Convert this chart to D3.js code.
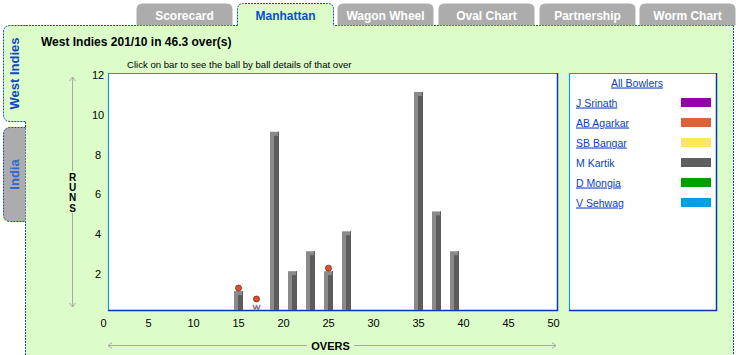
<!DOCTYPE html>
<html><head><meta charset="utf-8">
<script src="https://cdn.jsdelivr.net/npm/d3@7"></script>
<style>
html,body{margin:0;padding:0;background:#fff;}
svg{display:block;font-family:"Liberation Sans",Arial,sans-serif;}
</style></head>
<body><svg id="c" width="736" height="355"></svg>
<script>
// ---- data ----
const overs = [15, 17, 19, 21, 23, 25, 27, 35, 37, 39];
const runs = [1, 0, 9, 2, 3, 2, 4, 11, 5, 3];
const wicketOvers = [15, 17, 25];
const yTicks = [2, 4, 6, 8, 10, 12];
const xTicks = [0, 5, 10, 15, 20, 25, 30, 35, 40, 45, 50];
const bowlers = ["J Srinath", "AB Agarkar", "SB Bangar", "M Kartik", "D Mongia", "V Sehwag"];
const bowlerColors = ["#9400a8", "#e0603a", "#ffe857", "#5f5f5f", "#009f00", "#00a0e8"];
const bowlerLinked = [true, true, true, false, true, true];
const topTabs = ["Scorecard", "Manhattan", "Wagon Wheel", "Oval Chart", "Partnership", "Worm Chart"];
const activeTab = "Manhattan";
const sideTabs = ["West Indies", "India"];
const title = "West Indies 201/10 in 46.3 over(s)";
const subtitle = "Click on bar to see the ball by ball details of that over";
const yAxisLetters = ["R", "U", "N", "S"];

const GREEN = "#dcfdca", BLUE = "#1048c8", GREY = "#acacac";
const svg = d3.select("#c");

// ---- panel ----
svg.append("rect").attr("x", 25).attr("y", 25).attr("width", 709).attr("height", 330).attr("fill", GREEN);
const dash = "2,1";
svg.append("line").attr("x1", 20).attr("y1", 25.5).attr("x2", 733).attr("y2", 25.5)
  .attr("stroke", BLUE).attr("stroke-dasharray", dash);
svg.append("line").attr("x1", 733.5).attr("y1", 25).attr("x2", 733.5).attr("y2", 355)
  .attr("stroke", BLUE).attr("stroke-dasharray", dash);
svg.append("line").attr("x1", 25.5).attr("y1", 122).attr("x2", 25.5).attr("y2", 355)
  .attr("stroke", BLUE).attr("stroke-dasharray", dash);

// ---- top tabs ----
const tabX = d3.scaleBand().domain(topTabs).range([136, 736]).paddingInner(0.04).paddingOuter(0.0);
function tabPath(x, y, w, h, r) {
  return `M${x},${y + h} L${x},${y + r} Q${x},${y} ${x + r},${y} L${x + w - r},${y} Q${x + w},${y} ${x + w},${y + r} L${x + w},${y + h}`;
}
topTabs.forEach(t => {
  const x = Math.round(tabX(t)) + 0.5, w = Math.round(tabX.bandwidth()) - 1;
  const act = t === activeTab;
  svg.append("path").attr("d", tabPath(x, 3.5, w, act ? 23 : 22, 6) + "Z")
    .attr("fill", act ? GREEN : GREY).attr("stroke", "none");
  if (act) svg.append("path").attr("d", tabPath(x, 3.5, w, 22, 6))
    .attr("fill", "none").attr("stroke", BLUE).attr("stroke-dasharray", dash);
  svg.append("text").attr("x", x + w / 2).attr("y", 19.5).attr("text-anchor", "middle")
    .attr("font-size", 12).attr("font-weight", "bold")
    .attr("fill", act ? "#0a4fd0" : "#fff").text(t);
});

// ---- side tabs ----
function sidePath(x, y, w, h, r) {
  return `M${x + w},${y} L${x + r},${y} Q${x},${y} ${x},${y + r} L${x},${y + h - r} Q${x},${y + h} ${x + r},${y + h} L${x + w},${y + h}`;
}
const sideY = [[25.5, 96], [127.5, 94]];
sideTabs.forEach((t, i) => {
  const [y, h] = sideY[i];
  const act = i === 0;
  svg.append("path").attr("d", sidePath(3.5, y, act ? 22.5 : 22, h, 7) + "Z").attr("fill", act ? GREEN : GREY);
  svg.append("path").attr("d", sidePath(3.5, y, 22, h, 7)).attr("fill", "none")
    .attr("stroke", BLUE).attr("stroke-dasharray", dash);
  svg.append("text").attr("transform", `translate(19,${y + h / 2}) rotate(-90)`)
    .attr("text-anchor", "middle").attr("font-size", 13).attr("font-weight", "bold")
    .attr("fill", act ? "#1048c0" : "#2f68d0").text(t);
});

// ---- titles ----
svg.append("text").attr("x", 41).attr("y", 46).attr("font-size", 12).attr("font-weight", "bold")
  .attr("fill", "#000").text(title);
svg.append("text").attr("x", 127).attr("y", 68).attr("font-size", 9.6).attr("fill", "#000").text(subtitle);

// ---- scales ----
const x = d3.scaleLinear().domain([0, 50]).range([103.5, 553.5]);
const y = d3.scaleLinear().domain([0, 12]).range([311, 72]);
const L = 108, R = 558, T = 73, B = 311;

// plot box
svg.append("rect").attr("x", L).attr("y", T).attr("width", R - L).attr("height", B - T).attr("fill", "#fff");
svg.append("path").attr("d", `M${L + 0.5},${B} L${L + 0.5},${T + 0.5} L${R},${T + 0.5}`)
  .attr("fill", "none").attr("stroke", "#1a90f0").attr("stroke-width", 1.2);
svg.append("path").attr("d", `M${R - 0.5},${T} L${R - 0.5},${B - 0.5} L${L},${B - 0.5}`)
  .attr("fill", "none").attr("stroke", "#0838b0").attr("stroke-width", 1.5);

// y tick labels
svg.append("g").selectAll("text").data(yTicks).join("text")
  .attr("x", 98).attr("y", d => y(d) + 3).attr("dy", "0.35em").attr("text-anchor", "middle")
  .attr("font-size", 11).attr("fill", "#000").text(d => d);
// x tick labels
svg.append("g").selectAll("text").data(xTicks).join("text")
  .attr("x", d => x(d)).attr("y", 327).attr("text-anchor", "middle")
  .attr("font-size", 11).attr("fill", "#000").text(d => d);

// ---- bars ----
const bw = x(1) - x(0);
const data = overs.map((o, i) => ({ o, r: runs[i] }));
const g = svg.append("g");
data.filter(d => d.r > 0).forEach(d => {
  const bx = x(d.o) - bw / 2, top = y(d.r);
  g.append("rect").attr("x", bx).attr("y", top).attr("width", bw).attr("height", B - 1 - top).attr("fill", "#8a8a8a");
  g.append("rect").attr("x", bx + 4).attr("y", top + 4).attr("width", bw - 4).attr("height", B - 1 - top - 4).attr("fill", "#5c5c5c");
  g.append("rect").attr("x", bx + bw - 1).attr("y", top).attr("width", 1).attr("height", 4).attr("fill", "#5c5c5c");
});
// wicket balls
wicketOvers.forEach(o => {
  const r = runs[overs.indexOf(o)];
  const cy = r > 0 ? y(r) - 3 : y(0) - 12;
  if (r === 0) {
    svg.append("text").attr("x", x(o)).attr("y", B - 1).attr("text-anchor", "middle")
      .attr("font-size", 8).attr("fill", "#fff").attr("stroke", "#777").attr("stroke-width", 0.6).text("W");
  }
  svg.append("circle").attr("cx", x(o)).attr("cy", cy).attr("r", 3)
    .attr("fill", "#e0502a").attr("stroke", "#602010").attr("stroke-width", 0.7);
});

// ---- axis arrows ----
const ag = "#a8a8a8";
svg.append("line").attr("x1", 72.5).attr("y1", 77).attr("x2", 72.5).attr("y2", 307).attr("stroke", ag);
svg.append("path").attr("d", "M69.5,81 L72.5,77 L75.5,81 M69.5,303 L72.5,307 L75.5,303").attr("fill", "none").attr("stroke", ag);
svg.append("rect").attr("x", 66).attr("y", 171).attr("width", 13).attr("height", 42).attr("fill", GREEN);
yAxisLetters.forEach((c, i) => {
  svg.append("text").attr("x", 72.5).attr("y", 181 + i * 10.2).attr("text-anchor", "middle")
    .attr("font-size", 10).attr("font-weight", "bold").attr("fill", "#000").text(c);
});
svg.append("line").attr("x1", 108).attr("y1", 345.5).attr("x2", 556).attr("y2", 345.5).attr("stroke", ag);
svg.append("path").attr("d", "M112,342.5 L108,345.5 L112,348.5 M552,342.5 L556,345.5 L552,348.5").attr("fill", "none").attr("stroke", ag);
svg.append("rect").attr("x", 307).attr("y", 339).attr("width", 47).attr("height", 13).attr("fill", GREEN);
svg.append("text").attr("x", 330.5).attr("y", 350).attr("text-anchor", "middle")
  .attr("font-size", 11).attr("font-weight", "bold").attr("fill", "#000").text("OVERS");

// ---- legend ----
const LL = 569, LR = 717, LT = 73, LB = 311;
svg.append("rect").attr("x", LL).attr("y", LT).attr("width", LR - LL).attr("height", LB - LT).attr("fill", "#fff");
svg.append("path").attr("d", `M${LL + 0.5},${LB} L${LL + 0.5},${LT + 0.5} L${LR},${LT + 0.5}`)
  .attr("fill", "none").attr("stroke", "#1a90f0").attr("stroke-width", 1.2);
svg.append("path").attr("d", `M${LR - 0.5},${LT} L${LR - 0.5},${LB - 0.5} L${LL},${LB - 0.5}`)
  .attr("fill", "none").attr("stroke", "#0838b0").attr("stroke-width", 1.5);
svg.append("text").attr("x", 637).attr("y", 86.5).attr("text-anchor", "middle").attr("font-size", 10.5)
  .attr("fill", "#0a3fbf").attr("text-decoration", "underline").text("All Bowlers");
const ly = d3.scalePoint().domain(bowlers).range([103, 203]);
bowlers.forEach((b, i) => {
  svg.append("text").attr("x", 576).attr("y", ly(b) + 3.5).attr("font-size", 10.5)
    .attr("fill", "#0a3fbf").attr("text-decoration", bowlerLinked[i] ? "underline" : null).text(b);
  svg.append("rect").attr("x", 681).attr("y", ly(b) - 5).attr("width", 30).attr("height", 9).attr("fill", bowlerColors[i]);
});
</script></body></html>
